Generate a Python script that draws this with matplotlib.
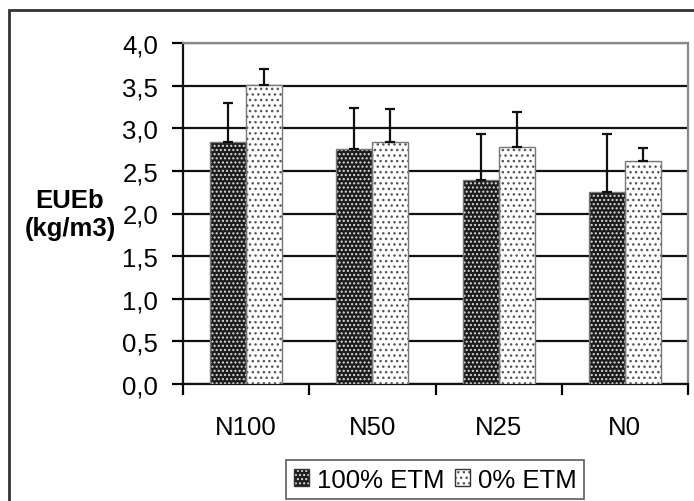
import matplotlib
matplotlib.use("Agg")
import matplotlib.pyplot as plt
from matplotlib.patches import Patch, Rectangle
from matplotlib.ticker import FuncFormatter, FixedLocator
from matplotlib.legend_handler import HandlerTuple
import numpy as np

plt.rcParams['font.family'] = ['Liberation Sans', 'DejaVu Sans']
plt.rcParams['hatch.linewidth'] = 1.0

categories = ['N100', 'N50', 'N25', 'N0']
etm100 = [2.84, 2.76, 2.39, 2.25]
etm100_err = [0.46, 0.48, 0.54, 0.68]
etm0 = [3.51, 2.84, 2.78, 2.62]
etm0_err = [0.19, 0.38, 0.41, 0.15]
series_labels = ['100% ETM', '0% ETM']

fig = plt.figure(figsize=(6.94, 5.02), dpi=100)
ax = fig.add_axes([183 / 694, 1 - 385 / 502, 505 / 694, 341 / 502])

x = np.arange(len(categories))
w = 0.286

# fills with dotted hatch (hatch takes the edge colour), then outlines on top
ax.bar(x - w / 2, etm100, w, color='#1c1c1c', edgecolor='#dddddd', hatch='....', lw=0, zorder=3)
ax.bar(x + w / 2, etm0, w, color='white', edgecolor='#555555', hatch='...', lw=0, zorder=3)
ax.bar(x - w / 2, etm100, w, fill=False, edgecolor='#777777', lw=1, zorder=4)
ax.bar(x + w / 2, etm0, w, fill=False, edgecolor='#777777', lw=1, zorder=4)

ax.errorbar(x - w / 2, etm100, yerr=[np.zeros(4), etm100_err], fmt='none',
            ecolor='#111111', elinewidth=1.6, capsize=3.5, capthick=1.6, zorder=5)
ax.errorbar(x + w / 2, etm0, yerr=[np.zeros(4), etm0_err], fmt='none',
            ecolor='#111111', elinewidth=1.6, capsize=3.5, capthick=1.6, zorder=5)

ax.set_xlim(-0.5, 3.5)
ax.set_ylim(0, 4)
ax.set_yticks(np.arange(0, 4.01, 0.5))
ax.yaxis.set_major_formatter(FuncFormatter(lambda v, p: f'{v:.1f}'.replace('.', ',')))
ax.grid(axis='y', color='#111111', lw=1.6, zorder=0)
ax.set_axisbelow(True)

ax.xaxis.set_major_locator(FixedLocator([-0.5, 0.5, 1.5, 2.5, 3.5]))
ax.xaxis.set_major_formatter(FuncFormatter(lambda v, p: ''))
ax.xaxis.set_minor_locator(FixedLocator(x))
ax.set_xticklabels(categories, minor=True)
ax.tick_params(axis='x', which='minor', length=0, pad=22, labelsize=18.5)
ax.tick_params(axis='x', which='major', length=8, width=1.6, direction='out')
ax.tick_params(axis='y', length=8, width=1.6, direction='out', labelsize=18.5, pad=10)

for s in ['left', 'bottom']:
    ax.spines[s].set_color('#111111')
    ax.spines[s].set_linewidth(1.6)
for s in ['top', 'right']:
    ax.spines[s].set_color('#888888')
    ax.spines[s].set_linewidth(1.6)

fig.text(70 / 694, 1 - 215 / 502, 'EUEb\n(kg/m3)', ha='center', va='center',
         fontsize=18.5, fontweight='bold', linespacing=1.25)

outline = Patch(fill=False, edgecolor='#333333', lw=1)
handles = [(Patch(facecolor='#1c1c1c', edgecolor='#dddddd', hatch='....', lw=0), outline),
           (Patch(facecolor='white', edgecolor='#555555', hatch='...', lw=0), outline)]
leg = fig.legend(handles, series_labels, loc='upper center',
                 handler_map={tuple: HandlerTuple(ndivide=1, pad=0)},
                 bbox_to_anchor=(435 / 694, 1 - 461 / 502), ncol=2, fontsize=18.5,
                 frameon=True, fancybox=False, edgecolor='#333333',
                 handlelength=0.6, handleheight=0.6, handletextpad=0.3,
                 columnspacing=0.4, borderpad=0.3, borderaxespad=0)
leg.get_frame().set_linewidth(1.2)

fig.patches.append(Rectangle((9 / 694, -0.1), 1.2, 1 - 11 / 502 + 0.1,
                             transform=fig.transFigure, fill=False,
                             edgecolor='#333333', lw=2))

fig.savefig('out.png', dpi=100)
